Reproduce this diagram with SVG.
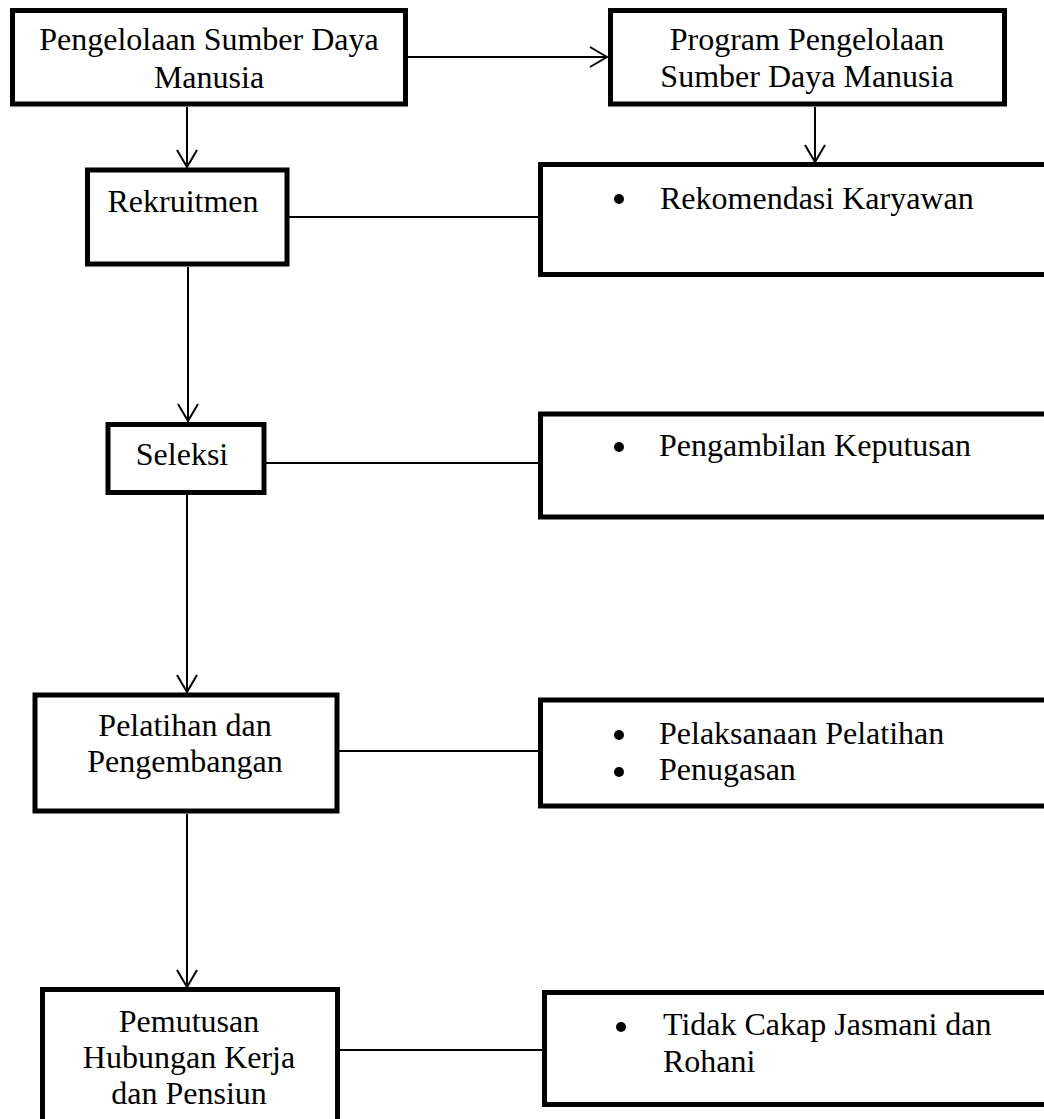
<svg xmlns="http://www.w3.org/2000/svg" width="1044" height="1119" viewBox="0 0 1044 1119">
<style>
.box{fill:#fff;stroke:#000;stroke-width:5}
.ln{stroke:#000;stroke-width:2;fill:none}
.t{font-family:"Liberation Serif","Times New Roman",serif;font-size:32px;fill:#000}
.c{text-anchor:middle}
.b{fill:#000}
</style>
<defs>
<marker id="ah" markerUnits="userSpaceOnUse" markerWidth="22" markerHeight="24" refX="18" refY="11" orient="auto">
<path d="M1,1 L18,11 L1,21" fill="none" stroke="#000" stroke-width="2"/>
</marker>
</defs>
<rect width="1044" height="1119" fill="#fff"/>
<g id="connectors">
<line class="ln" x1="408" y1="57" x2="607" y2="57" marker-end="url(#ah)"/>
<line class="ln" x1="187" y1="107" x2="187" y2="167" marker-end="url(#ah)"/>
<line class="ln" x1="815" y1="107" x2="815" y2="162" marker-end="url(#ah)"/>
<line class="ln" x1="188" y1="267" x2="188" y2="421" marker-end="url(#ah)"/>
<line class="ln" x1="187" y1="495" x2="187" y2="692" marker-end="url(#ah)"/>
<line class="ln" x1="187" y1="814" x2="187" y2="987" marker-end="url(#ah)"/>
<line class="ln" x1="289" y1="217" x2="538" y2="217"/>
<line class="ln" x1="266" y1="463" x2="538" y2="463"/>
<line class="ln" x1="339" y1="751" x2="538" y2="751"/>
<line class="ln" x1="340" y1="1050" x2="542" y2="1050"/>
</g>
<g id="n-psdm">
<rect class="box" x="12.5" y="10.5" width="393" height="93.5"/>
<text class="t c" x="209" y="50">Pengelolaan Sumber Daya</text>
<text class="t c" x="209" y="88">Manusia</text>
</g>
<g id="n-program">
<rect class="box" x="610.5" y="10.5" width="394" height="93.5"/>
<text class="t c" x="807" y="50">Program Pengelolaan</text>
<text class="t c" x="807" y="87">Sumber Daya Manusia</text>
</g>
<g id="n-rekruitmen">
<rect class="box" x="87.5" y="170" width="199.5" height="94"/>
<text class="t c" x="183" y="212">Rekruitmen</text>
</g>
<g id="n-rekomendasi">
<rect class="box" x="540.5" y="164.5" width="520" height="110"/>
<circle class="b" cx="619" cy="199" r="5"/>
<text class="t" x="660" y="209">Rekomendasi Karyawan</text>
</g>
<g id="n-seleksi">
<rect class="box" x="108" y="424.5" width="156" height="68"/>
<text class="t c" x="182" y="465">Seleksi</text>
</g>
<g id="n-pengambilan">
<rect class="box" x="540.5" y="414" width="520" height="103"/>
<circle class="b" cx="619" cy="447" r="5"/>
<text class="t" x="659" y="456">Pengambilan Keputusan</text>
</g>
<g id="n-pelatihan">
<rect class="box" x="35" y="695" width="302" height="116"/>
<text class="t c" x="185" y="736">Pelatihan dan</text>
<text class="t c" x="185" y="772">Pengembangan</text>
</g>
<g id="n-pelaksanaan">
<rect class="box" x="540.5" y="700" width="520" height="106"/>
<circle class="b" cx="619" cy="735" r="5"/>
<text class="t" x="659" y="744">Pelaksanaan Pelatihan</text>
<circle class="b" cx="619" cy="772" r="5"/>
<text class="t" x="659" y="780">Penugasan</text>
</g>
<g id="n-pemutusan">
<rect class="box" x="42.5" y="989.5" width="295" height="200"/>
<text class="t c" x="189" y="1032">Pemutusan</text>
<text class="t c" x="189" y="1068">Hubungan Kerja</text>
<text class="t c" x="189" y="1104">dan Pensiun</text>
</g>
<g id="n-tidakcakap">
<rect class="box" x="544.5" y="992.5" width="520" height="112"/>
<circle class="b" cx="621" cy="1027" r="5"/>
<text class="t" x="663" y="1035">Tidak Cakap Jasmani dan</text>
<text class="t" x="663" y="1072">Rohani</text>
</g>
</svg>
